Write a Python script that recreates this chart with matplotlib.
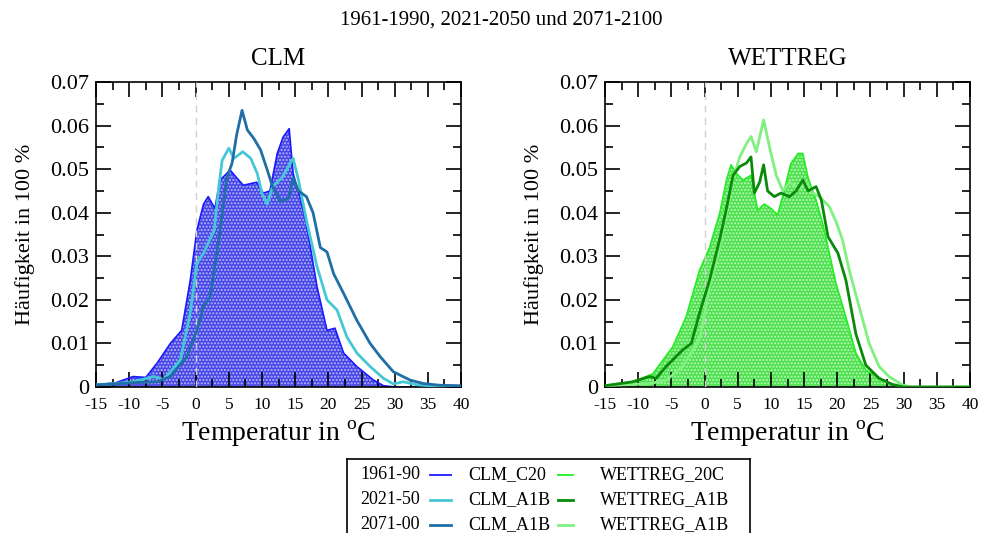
import numpy as np
import matplotlib
matplotlib.use("Agg")
import matplotlib.pyplot as plt
from matplotlib.ticker import MultipleLocator
from matplotlib.lines import Line2D

plt.rcParams['font.family'] = ['Liberation Serif', 'DejaVu Serif']
plt.rcParams['mathtext.fontset'] = 'custom'
plt.rcParams['mathtext.rm'] = 'Liberation Serif'
plt.rcParams['axes.unicode_minus'] = False

# CLM, 1961-90 (C20), filled
clm_c20_t = [-15, -12, -9.4, -7.5, -5.8, -3.8, -2.1, -0.8, 0.2, 1.2, 1.9, 2.9, 3.7, 5.2, 6.2, 7.2,
             9.2, 10.2, 11.2, 12.3, 13.2, 14.1, 14.7, 15.7, 16.7, 18.3, 19.8, 21.0, 22.3, 24.3,
             26.8, 28.3, 30, 40]
clm_c20_v = [0.0005, 0.001, 0.0024, 0.0022, 0.0055, 0.010, 0.013, 0.0245, 0.036, 0.042, 0.0437,
             0.041, 0.0475, 0.0498, 0.048, 0.0463, 0.047, 0.0445, 0.045, 0.0536, 0.0574, 0.0593,
             0.049, 0.0437, 0.0375, 0.023, 0.013, 0.0135, 0.0078, 0.0047, 0.0016, 0.0003, 0, 0]

# CLM, 2021-50 (A1B)
clm_a1b_50_t = [-15, -12, -9.4, -6.3, -4.8, -2.3, -0.8, 0.2, 1.2, 2.8, 3.5, 4.0, 5.0, 5.8, 7.1,
                8.3, 9.3, 10.0, 10.8, 11.6, 13.0, 14.7, 15.5, 16.7, 18.3, 19.8, 21.3, 22.8, 24.3,
                26.3, 28.3, 29.8, 31.3, 33.4, 36, 40]
clm_a1b_50_v = [0.0005, 0.0008, 0.0012, 0.0024, 0.0017, 0.0062, 0.017, 0.0284, 0.0307, 0.036,
                0.046, 0.052, 0.0548, 0.0525, 0.054, 0.0525, 0.049, 0.0445, 0.042, 0.046, 0.048,
                0.0525, 0.0475, 0.0383, 0.0276, 0.020, 0.0177, 0.0115, 0.0078, 0.0047, 0.002,
                0.0007, 0.0012, 0.0005, 0.0002, 0.0001]

# CLM, 2071-00 (A1B)
clm_a1b_00_t = [-15, -12, -9.4, -5.8, -3.8, -1.3, 0.2, 1.2, 2.2, 3.7, 4.7, 5.5, 6.2, 7.0, 7.8,
                8.8, 9.8, 10.8, 11.6, 12.8, 14.0, 14.7, 15.5, 16.7, 17.7, 18.8, 19.8, 20.8, 22.3,
                24.3, 26.3, 27.8, 29.8, 32.3, 34.3, 36.8, 40]
clm_a1b_00_v = [0.0005, 0.0007, 0.001, 0.0012, 0.0024, 0.007, 0.013, 0.0184, 0.0207, 0.036,
                0.048, 0.0514, 0.058, 0.0635, 0.059, 0.057, 0.0544, 0.0498, 0.046, 0.0425,
                0.0433, 0.048, 0.045, 0.0437, 0.040, 0.032, 0.031, 0.026, 0.0215, 0.0153, 0.010,
                0.007, 0.0035, 0.0016, 0.0008, 0.0004, 0.0003]

# WETTREG, 1961-90 (20C), filled
wr_20c_t = [-15, -14.8, -10.8, -7.8, -4.8, -2.8, -0.75, 0.75, 2.3, 3.3, 4.0, 4.8, 5.8, 7.0, 8.0,
            9.0, 10.0, 11.0, 12.0, 13.0, 14.1, 14.8, 15.6, 16.8, 17.8, 18.8, 19.8, 21.3, 22.8,
            24.3, 26.3, 28.3, 30, 40]
wr_20c_v = [0.0004, 0.0004, 0.0012, 0.003, 0.0092, 0.016, 0.0268, 0.032, 0.040, 0.0475, 0.051,
            0.049, 0.0475, 0.0486, 0.0406, 0.042, 0.041, 0.0395, 0.045, 0.0513, 0.0536, 0.0536,
            0.048, 0.0429, 0.0375, 0.0307, 0.0238, 0.016, 0.0078, 0.0039, 0.002, 0.0005, 0, 0]

# WETTREG, 2021-50 (A1B)
wr_a1b_50_t = [-15, -10.8, -8.3, -7.3, -5.8, -3.3, -2.0, -0.75, 0.75, 2.3, 3.3, 4.3, 5.3, 6.3,
               7.0, 7.5, 8.3, 8.9, 9.5, 10.5, 11.5, 12.8, 13.8, 14.8, 15.6, 16.8, 17.6, 18.6,
               20.1, 21.3, 22.8, 24.3, 26.3, 28.3, 30, 40]
wr_a1b_50_v = [0.0003, 0.0012, 0.0024, 0.002, 0.0047, 0.0085, 0.010, 0.017, 0.0245, 0.034,
               0.041, 0.0486, 0.0506, 0.0514, 0.0528, 0.0445, 0.047, 0.051, 0.045, 0.0437,
               0.0445, 0.0437, 0.045, 0.0475, 0.045, 0.046, 0.0429, 0.0345, 0.0307, 0.0245,
               0.0122, 0.005, 0.002, 0.0006, 0, 0]

# WETTREG, 2071-00 (A1B)
wr_a1b_00_t = [-15, -8.3, -5.8, -3.3, -0.75, 0.75, 2.3, 3.3, 4.3, 5.3, 6.3, 7.0, 7.8, 8.9, 9.8,
               10.8, 11.8, 12.8, 14.3, 15.3, 16.3, 17.3, 18.8, 19.8, 20.8, 21.8, 23.3, 24.8,
               26.3, 27.8, 29.8, 31, 40]
wr_a1b_00_v = [0.0003, 0.0008, 0.0015, 0.0047, 0.011, 0.023, 0.032, 0.040, 0.0478, 0.0528,
               0.0558, 0.0575, 0.054, 0.0613, 0.055, 0.0486, 0.045, 0.047, 0.0455, 0.047,
               0.0445, 0.0437, 0.0414, 0.038, 0.0337, 0.0268, 0.0184, 0.010, 0.0047, 0.0024,
               0.0005, 0, 0]

periods = ['1961-90', '2021-50', '2071-00']
clm_names = ['CLM_C20', 'CLM_A1B', 'CLM_A1B']
wr_names = ['WETTREG_20C', 'WETTREG_A1B', 'WETTREG_A1B']
clm_colors = ['#1a1aff', '#45c8d6', '#1f6ea6']
wr_colors = ['#22ee22', '#0a8a0a', '#80f080']

fig = plt.figure(figsize=(9.82, 5.33), dpi=100)
fig.text(0.51, 0.962, '1961-1990, 2021-2050 und 2071-2100', ha='center', va='center', fontsize=15)

ax1 = fig.add_axes([0.0978, 0.2739, 0.3717, 0.5722])
ax2 = fig.add_axes([0.6161, 0.2739, 0.3717, 0.5722])


def style_axes(ax, title):
    ax.set_xlim(-15, 40)
    ax.set_ylim(0, 0.07)
    ax.xaxis.set_major_locator(MultipleLocator(5))
    ax.xaxis.set_minor_locator(MultipleLocator(2.5))
    ax.yaxis.set_major_locator(MultipleLocator(0.01))
    ax.yaxis.set_minor_locator(MultipleLocator(0.005))
    ax.set_yticks(np.arange(0, 0.071, 0.01))
    ax.set_yticklabels(['0', '0.01', '0.02', '0.03', '0.04', '0.05', '0.06', '0.07'])
    ax.tick_params(which='both', direction='in', top=True, right=True, width=1.2)
    ax.tick_params(which='major', length=11)
    ax.tick_params(which='minor', length=6)
    ax.tick_params(axis='x', labelsize=12.5, pad=7)
    ax.tick_params(axis='y', labelsize=16, pad=5)
    for s in ax.spines.values():
        s.set_linewidth(1.2)
    ax.axvline(0, color='#d0d0d0', lw=1, ls=(0, (5, 4)), zorder=3)
    ax.set_xlabel(r'Temperatur in $^{\mathrm{o}}$C', fontsize=20, labelpad=4)
    ax.set_ylabel('Häufigkeit in 100 %', fontsize=16, labelpad=11)
    ax.set_title(title, fontsize=18, pad=12)


# CLM panel
ax1.fill_between(clm_c20_t, clm_c20_v, facecolor='#4646e6', edgecolor='#b8b8ff',
                 hatch='.....', linewidth=0, zorder=1)
ax1.plot(clm_c20_t, clm_c20_v, color=clm_colors[0], lw=1.2, zorder=2)
ax1.plot(clm_a1b_50_t, clm_a1b_50_v, color=clm_colors[1], lw=2, zorder=4)
ax1.plot(clm_a1b_00_t, clm_a1b_00_v, color=clm_colors[2], lw=2, zorder=4)
style_axes(ax1, 'CLM')

# WETTREG panel
ax2.fill_between(wr_20c_t, wr_20c_v, facecolor='#4ede4e', edgecolor='#b8ffb8',
                 hatch='.....', linewidth=0, zorder=1)
ax2.plot(wr_20c_t, wr_20c_v, color=wr_colors[0], lw=1.2, zorder=2)
ax2.plot(wr_a1b_00_t, wr_a1b_00_v, color=wr_colors[2], lw=2, zorder=4)
ax2.plot(wr_a1b_50_t, wr_a1b_50_v, color=wr_colors[1], lw=2, zorder=4)
style_axes(ax2, 'WETTREG')

# legend box drawn as its own table of labels and line samples
lax = fig.add_axes([347 / 982, 0, (750 - 347) / 982, (533 - 459) / 533])
lax.set_xlim(347, 750)
lax.set_ylim(533, 459)
lax.set_xticks([])
lax.set_yticks([])
lax.spines['bottom'].set_visible(False)
for s in ['top', 'left', 'right']:
    lax.spines[s].set_linewidth(1.2)
row_y = [475, 500, 525]
for i in range(3):
    y = row_y[i]
    lax.text(360, y, periods[i], fontsize=13, va='center', ha='left')
    lax.add_line(Line2D([430, 451], [y, y], color=clm_colors[i], lw=2 if i else 1.3))
    lax.text(468, y, clm_names[i], fontsize=13, va='center', ha='left')
    lax.add_line(Line2D([558, 573], [y, y], color=wr_colors[i], lw=2 if i != 0 else 1.3))
    lax.text(600, y, wr_names[i], fontsize=13, va='center', ha='left')

fig.savefig('out.png', dpi=100)
